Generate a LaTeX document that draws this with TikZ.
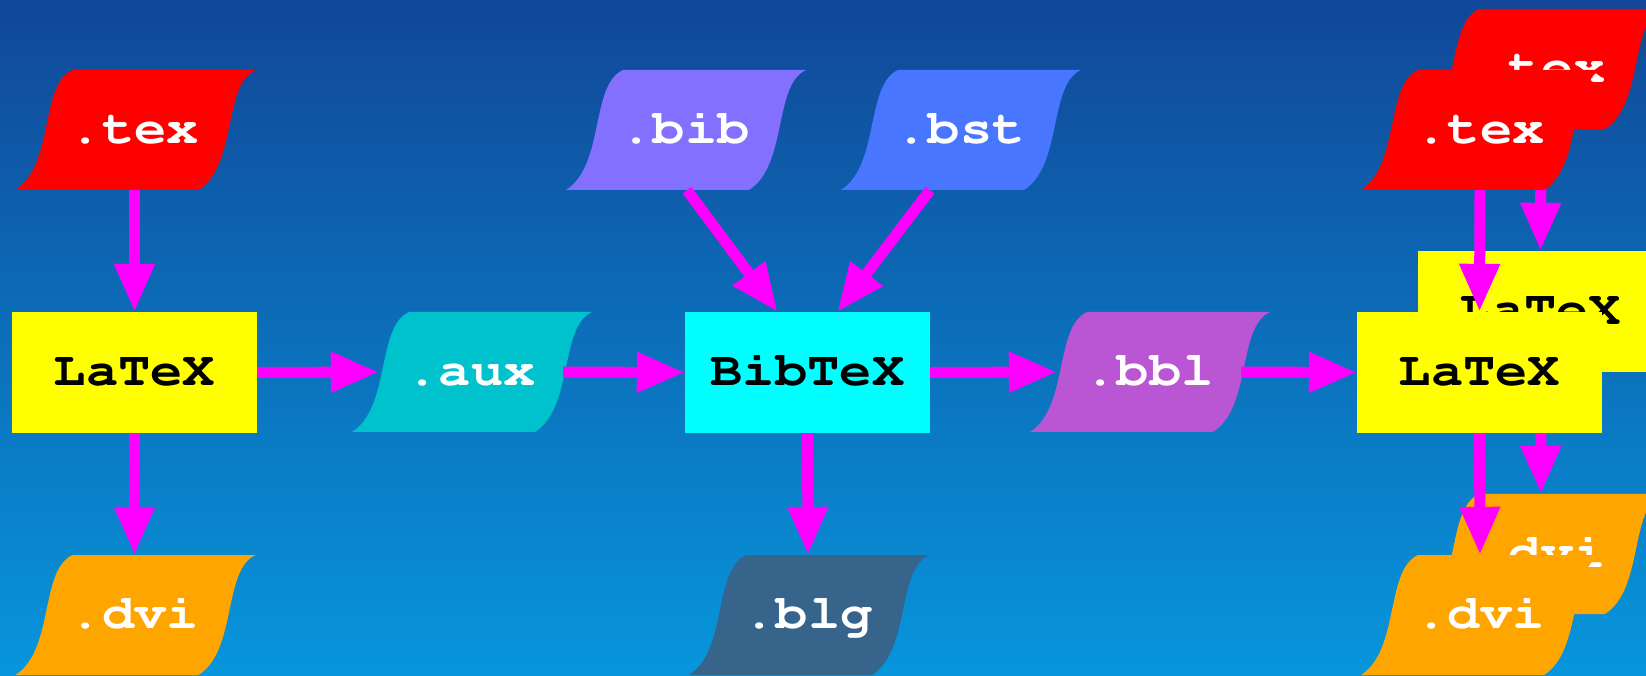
\documentclass[tikz,border=0pt]{standalone}
\usepackage[T1,TU]{fontenc}
\usepackage{graphicx}
\usetikzlibrary{arrows.meta}

\definecolor{bgtop}{RGB}{17,71,152}
\definecolor{bgbot}{RGB}{7,150,220}
\definecolor{texc}{RGB}{255,0,0}
\definecolor{progc}{RGB}{255,255,0}
\definecolor{bibtexc}{RGB}{0,255,255}
\definecolor{auxc}{RGB}{0,194,204}
\definecolor{bibc}{RGB}{132,112,255}
\definecolor{bstc}{RGB}{72,118,255}
\definecolor{bblc}{RGB}{186,85,211}
\definecolor{blgc}{RGB}{54,100,139}
\definecolor{dvic}{RGB}{255,165,0}
\definecolor{arrowc}{RGB}{255,0,255}

% bold Courier, slightly widened
\newcommand\codefont{\fontencoding{T1}\fontfamily{pcr}\fontseries{b}\fontsize{48}{58}\selectfont}
\newcommand\code[1]{\scalebox{1.12}[1]{#1}}

\tikzset{
  filelabel/.style={minimum width=184pt, minimum height=120pt, inner sep=0pt,
    text=white, font=\codefont, text height=27pt, text depth=0pt},
  progbox/.style={fill=#1, minimum width=245pt, minimum height=121pt, inner sep=0pt,
    text=black, font=\codefont, text height=27pt, text depth=0pt},
  flow/.style={draw=arrowc, line width=11pt, -{Triangle[length=48pt,width=38pt]}},
}

% a file: wavy slanted sheet with a named label node on top
\newcommand\filenode[4]{%
  \fill[#3, shift={#2}] (-119,-60) .. controls (-80,-35) and (-95,45) .. (-62,60)
    -- (121,60) .. controls (88,45) and (103,-35) .. (64,-60) -- cycle;
  \node[filelabel] (#1) at #2 {\code{#4}};
}

\begin{document}
\begin{tikzpicture}[x=1pt, y=1pt]
  \useasboundingbox (0,0) rectangle (1646,675);
  \clip (0,0) rectangle (1646,675);
  \shade[top color=bgtop, bottom color=bgbot] (0,0) rectangle (1646,675);

  % second LaTeX run, stacked behind
  \filenode{texB}{(1541,606)}{texc}{.tex}
  \node[progbox=progc] (latexB) at (1540.5,363.5) {\code{LaTeX}};
  \filenode{dviB}{(1541,121)}{dvic}{.dvi}
  \draw[flow] (texB.south) -- (latexB.north);
  \draw[flow] (latexB.south) -- (dviB.north);

  % first LaTeX run
  \filenode{texA}{(134.5,545)}{texc}{.tex}
  \node[progbox=progc] (latexA) at (134.5,302.5) {\code{LaTeX}};
  \filenode{dviA}{(134.5,60)}{dvic}{.dvi}
  \filenode{aux}{(471,303)}{auxc}{.aux}

  % BibTeX
  \filenode{bib}{(685,545)}{bibc}{.bib}
  \filenode{bst}{(960,545)}{bstc}{.bst}
  \node[progbox=bibtexc] (bibtex) at (807.5,302.5) {\code{BibTeX}};
  \filenode{blg}{(808,60)}{blgc}{.blg}
  \filenode{bbl}{(1149,303)}{bblc}{.bbl}

  % final LaTeX run
  \filenode{texC}{(1480,545)}{texc}{.tex}
  \node[progbox=progc] (latexC) at (1479.5,302.5) {\code{LaTeX}};
  \filenode{dviC}{(1480,60)}{dvic}{.dvi}

  % connectors
  \draw[flow] (texA.south) -- (latexA.north);
  \draw[flow] (latexA.south) -- (dviA.north);
  \draw[flow] (latexA.east) -- (aux.west);
  \draw[flow] (aux.east) -- (bibtex.west);
  \draw[flow] ([xshift=2pt]bib.south) -- ([xshift=-30pt]bibtex.north);
  \draw[flow] ([xshift=-30pt]bst.south) -- ([xshift=30pt]bibtex.north);
  \draw[flow] (bibtex.south) -- (blg.north);
  \draw[flow] (bibtex.east) -- (bbl.west);
  \draw[flow] (bbl.east) -- (latexC.west);
  \draw[flow] (texC.south) -- (latexC.north);
  \draw[flow] (latexC.south) -- (dviC.north);
\end{tikzpicture}
\end{document}
